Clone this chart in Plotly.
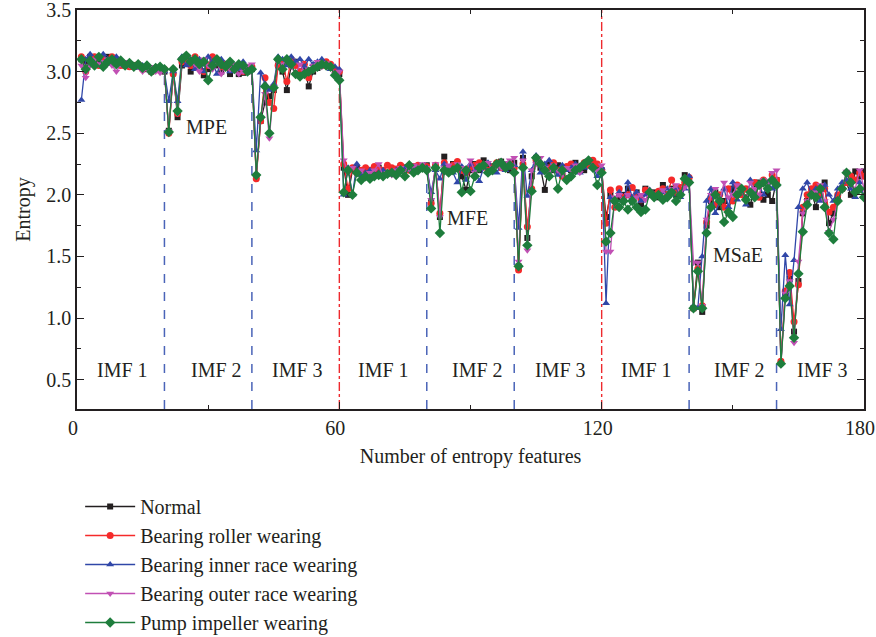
import plotly.graph_objects as go

x_idx = list(range(1, 181))

normal = [
    3.10, 3.08, 3.12, 3.10, 3.08, 3.10, 3.12, 3.10, 3.08, 3.06, 3.05, 3.06, 3.04, 3.05, 3.03, 3.02, 3.00, 3.02, 3.03, 3.00,
    2.52, 3.00, 2.63, 3.05, 3.10, 3.00, 3.08, 3.05, 2.97, 3.02, 3.10, 3.05, 3.00, 3.04, 2.98, 3.02, 2.98, 2.99, 3.00, 3.02,
    2.15, 2.60, 2.75, 2.80, 2.85, 3.05, 3.00, 2.85, 3.05, 3.08, 2.98, 3.02, 2.88, 3.00, 3.03, 3.05, 3.06, 3.04, 3.00, 2.98,
    2.22, 2.00, 2.20, 2.22, 2.18, 2.20, 2.17, 2.20, 2.22, 2.20, 2.18, 2.21, 2.20, 2.23, 2.22, 2.21, 2.20, 2.23, 2.22, 2.24,
    1.95, 2.22, 1.82, 2.31, 2.20, 2.25, 2.22, 2.15, 2.04, 2.20, 2.25, 2.20, 2.28, 2.22, 2.20, 2.25, 2.27, 2.22, 2.20, 2.26,
    1.42, 2.30, 1.65, 2.15, 2.30, 2.22, 2.04, 2.25, 2.20, 2.24, 2.18, 2.22, 2.20, 2.26, 2.22, 2.20, 2.24, 2.25, 2.22, 2.20,
    1.82, 2.00, 1.95, 1.98, 2.00, 2.05, 1.95, 2.02, 1.92, 2.05, 2.00, 2.02, 1.98, 2.08, 2.00, 2.05, 2.00, 2.02, 2.16, 2.12,
    1.08, 1.45, 1.05, 1.75, 1.95, 2.02, 1.90, 1.95, 1.85, 2.05, 2.00, 2.02, 1.98, 1.92, 2.05, 2.10, 1.96, 2.00, 1.95, 2.12,
    0.64, 1.20, 1.32, 0.89, 1.30, 1.85, 1.95, 2.02, 1.90, 2.05, 2.10, 1.77, 1.85, 1.98, 2.05, 2.10, 2.00, 2.19, 2.15, 2.19,
]
roller = [
    3.12, 3.00, 3.10, 3.12, 3.05, 3.10, 3.08, 3.12, 3.10, 3.05, 3.06, 3.04, 3.05, 3.06, 3.02, 3.04, 3.00, 3.03, 3.01, 3.02,
    2.50, 2.98, 2.66, 3.08, 3.10, 3.05, 3.12, 3.08, 3.00, 3.05, 3.12, 3.08, 3.04, 3.06, 3.03, 3.02, 3.05, 3.00, 3.02, 3.04,
    2.13, 2.60, 2.95, 2.75, 2.70, 3.05, 3.08, 2.92, 3.10, 3.05, 3.00, 3.06, 2.95, 3.02, 3.06, 3.05, 3.08, 3.06, 3.02, 3.00,
    2.25, 2.05, 2.22, 2.18, 2.20, 2.22, 2.20, 2.23, 2.21, 2.20, 2.24, 2.22, 2.21, 2.24, 2.22, 2.20, 2.23, 2.24, 2.22, 2.23,
    1.93, 2.24, 1.85, 2.26, 2.22, 2.24, 2.27, 2.20, 2.18, 2.22, 2.24, 2.26, 2.24, 2.20, 2.23, 2.26, 2.22, 2.24, 2.25, 2.22,
    1.39, 2.25, 1.74, 2.05, 2.28, 2.25, 2.20, 2.22, 2.26, 2.20, 2.15, 2.23, 2.25, 2.20, 2.22, 2.26, 2.24, 2.28, 2.25, 2.20,
    1.77, 2.04, 1.90, 2.05, 1.98, 2.00, 2.06, 2.00, 1.96, 2.04, 2.02, 2.00, 2.03, 2.05, 2.00, 2.12, 2.02, 2.06, 2.10, 2.14,
    1.08, 1.40, 1.10, 1.78, 1.98, 1.92, 2.00, 1.90, 2.05, 1.95, 2.08, 2.00, 2.05, 2.02, 2.10, 1.98, 2.12, 2.05, 2.16, 2.12,
    0.65, 1.22, 1.37, 0.97, 1.27, 1.90, 2.00, 2.05, 2.08, 2.00, 2.05, 1.86, 1.90, 2.00, 2.05, 2.10, 2.15, 2.12, 2.18, 2.15,
]
inner = [
    2.77, 3.10, 3.14, 3.08, 3.05, 3.14, 3.10, 3.06, 3.12, 3.08, 3.05, 3.06, 3.04, 3.03, 3.05, 3.02, 3.00, 3.04, 3.02, 3.00,
    2.76, 3.00, 2.76, 3.12, 3.05, 3.10, 3.02, 3.10, 3.00, 3.12, 3.08, 2.98, 3.10, 3.06, 3.00, 3.05, 3.02, 3.08, 3.00, 3.03,
    2.36, 2.99, 2.90, 2.85, 2.90, 3.12, 3.10, 3.05, 3.12, 3.08, 3.10, 3.04, 3.10, 3.06, 3.08, 3.10, 3.06, 3.02, 3.04, 3.02,
    2.00, 2.22, 2.00, 2.25, 2.16, 2.18, 2.20, 2.16, 2.18, 2.20, 2.16, 2.18, 2.20, 2.19, 2.22, 2.20, 2.21, 2.22, 2.20, 2.22,
    2.02, 2.20, 2.13, 2.25, 2.20, 2.18, 2.10, 2.23, 2.12, 2.25, 2.20, 2.11, 2.22, 2.26, 2.20, 2.18, 2.24, 2.20, 2.22, 2.24,
    1.73, 2.35, 1.99, 2.20, 2.32, 2.18, 2.25, 2.28, 2.20, 2.16, 2.24, 2.20, 2.22, 2.25, 2.18, 2.22, 2.26, 2.22, 2.15, 2.22,
    1.12, 1.98, 1.95, 2.02, 1.95, 2.10, 1.98, 2.02, 1.95, 2.00, 2.04, 2.00, 1.98, 2.02, 2.05, 2.00, 2.06, 1.98, 2.05, 2.15,
    1.10, 1.08, 1.50, 1.95, 2.05, 1.85, 1.95, 2.05, 1.90, 2.10, 1.96, 2.05, 1.92, 2.12, 2.00, 2.08, 2.00, 2.10, 2.05, 2.08,
    0.91, 1.51, 1.11, 1.47, 1.90, 2.05, 2.10, 2.00, 2.05, 1.95, 2.08, 2.00, 1.95, 2.05, 2.10, 2.12, 2.05, 1.98, 2.10, 1.98,
]
outer = [
    3.05, 2.95, 3.05, 3.10, 3.06, 3.08, 3.10, 3.05, 3.00, 3.06, 3.08, 3.05, 3.03, 3.04, 3.00, 3.02, 3.04, 3.00, 2.99, 3.00,
    2.52, 3.00, 2.66, 3.10, 3.12, 3.08, 3.06, 3.00, 3.10, 3.05, 3.02, 3.08, 2.98, 3.05, 3.02, 3.06, 2.98, 3.00, 3.05, 3.06,
    2.15, 2.62, 2.82, 2.46, 2.88, 3.08, 3.06, 3.10, 3.04, 2.98, 3.06, 3.00, 3.02, 3.05, 3.08, 3.04, 3.07, 3.05, 2.98, 3.00,
    2.28, 2.18, 2.22, 2.17, 2.20, 2.14, 2.18, 2.20, 2.25, 2.15, 2.18, 2.16, 2.20, 2.22, 2.19, 2.21, 2.24, 2.23, 2.25, 2.22,
    1.96, 2.25, 1.82, 2.22, 2.24, 2.20, 2.25, 2.22, 2.20, 2.28, 2.18, 2.24, 2.22, 2.26, 2.20, 2.24, 2.22, 2.26, 2.28, 2.30,
    1.46, 2.28, 1.55, 2.20, 2.25, 2.30, 2.22, 2.18, 2.24, 2.20, 2.16, 2.22, 2.20, 2.24, 2.18, 2.25, 2.28, 2.22, 2.20, 2.24,
    1.54, 1.54, 1.98, 2.00, 1.96, 2.00, 1.95, 1.98, 2.00, 1.96, 2.02, 1.98, 2.00, 2.04, 1.98, 2.05, 2.08, 2.00, 2.06, 2.10,
    1.45, 1.45, 1.10, 1.80, 2.00, 2.05, 1.95, 2.10, 1.98, 2.00, 2.08, 2.05, 1.95, 2.10, 2.05, 2.00, 2.12, 2.08, 2.18, 2.20,
    0.62, 1.20, 1.30, 0.80, 1.46, 1.85, 1.95, 2.00, 2.02, 2.08, 1.95, 1.70, 1.80, 1.95, 2.05, 2.19, 2.10, 2.05, 2.20, 2.05,
]
pump = [
    3.10, 3.02, 3.09, 3.05, 3.12, 3.04, 3.08, 3.10, 3.06, 3.09, 3.05, 3.07, 3.04, 3.06, 3.03, 3.05, 3.00, 3.03, 3.04, 3.02,
    2.51, 3.02, 2.68, 3.10, 3.13, 3.08, 3.10, 3.06, 3.08, 2.93, 3.05, 3.10, 3.06, 3.04, 3.08, 3.02, 3.06, 3.05, 3.00, 3.02,
    2.16, 2.63, 2.88, 2.50, 2.87, 3.10, 3.02, 3.10, 3.06, 2.98, 2.96, 2.98, 3.00, 3.02, 3.04, 3.06, 3.05, 3.04, 2.97, 2.93,
    2.02, 2.20, 2.00, 2.18, 2.12, 2.15, 2.13, 2.15, 2.16, 2.15, 2.17, 2.18, 2.16, 2.20, 2.15, 2.24, 2.18, 2.20, 2.22, 2.20,
    1.89, 2.22, 1.69, 2.20, 2.18, 2.20, 2.22, 2.02, 2.20, 2.03, 2.15, 2.22, 2.24, 2.18, 2.20, 2.25, 2.26, 2.22, 2.24, 2.18,
    1.42, 2.22, 1.59, 2.03, 2.30, 2.25, 2.20, 2.15, 2.22, 2.05, 2.20, 2.12, 2.15, 2.20, 2.22, 2.25, 2.28, 2.22, 2.08, 2.18,
    1.62, 1.69, 1.95, 1.90, 1.95, 1.88, 1.95, 1.90, 1.86, 1.88, 2.02, 1.98, 2.00, 1.96, 1.98, 2.02, 1.95, 2.00, 2.13, 2.10,
    1.08, 1.38, 1.08, 1.69, 1.90, 2.00, 1.95, 1.78, 1.86, 1.82, 2.00, 2.05, 1.96, 2.02, 1.98, 2.08, 2.10, 2.05, 2.12, 2.08,
    0.63, 1.16, 1.26, 0.84, 1.36, 1.70, 1.92, 2.00, 1.98, 2.05, 1.90, 1.69, 1.64, 1.95, 2.05, 2.18, 2.10, 2.02, 2.05, 1.98,
]

series_names = ["Normal", "Bearing roller wearing", "Bearing inner race wearing",
                "Bearing outer race wearing", "Pump impeller wearing"]
series_values = [normal, roller, inner, outer, pump]
series_colors = ["#231f20", "#f52a2a", "#3047a8", "#c150b4", "#1e7d3c"]
series_symbols = ["square", "circle", "triangle-up", "triangle-down", "diamond"]
series_sizes = [6, 7, 7, 7, 8]

imf_x = [10.5, 31.8, 50.5, 70.1, 91.7, 110.5, 130.3, 151.6, 170.4]
imf_labels = ["IMF 1", "IMF 2", "IMF 3"] * 3
method_x = [29.7, 89.4, 151.2]
method_y = [2.55, 1.81, 1.51]
method_labels = ["MPE", "MFE", "MSaE"]
blue_lines_x = [20, 40, 80, 100, 140, 160]
blue_lines_top = [3.0, 3.0, 2.2, 2.2, 2.05, 2.1]
red_lines_x = [60, 120]

FONT = "Liberation Serif"
TXT = "#231f20"

fig = go.Figure()
for i, (nm, vals, col, sym, sz) in enumerate(zip(series_names, series_values, series_colors,
                                                   series_symbols, series_sizes)):
    fig.add_trace(go.Scatter(
        x=x_idx, y=vals, name=nm, mode="lines+markers",
        line=dict(color=col, width=1.3),
        marker=dict(symbol=sym, size=sz, color=col),
    ))

YMIN, YMAX = 0.262, 3.5
for xv, top in zip(blue_lines_x, blue_lines_top):
    fig.add_shape(type="line", x0=xv, x1=xv, y0=YMIN, y1=top, xref="x", yref="y",
                  line=dict(color="#4a64b8", width=1.5, dash="dash"), layer="below")
for xv in red_lines_x:
    fig.add_shape(type="line", x0=xv, x1=xv, y0=YMIN, y1=YMAX, xref="x", yref="y",
                  line=dict(color="#ee2a2e", width=1.4, dash="dashdot"), layer="below")

for xv, lab in zip(imf_x, imf_labels):
    fig.add_annotation(x=xv, y=0.58, text=lab, showarrow=False,
                       font=dict(family=FONT, size=20, color=TXT))
for xv, yv, lab in zip(method_x, method_y, method_labels):
    fig.add_annotation(x=xv, y=yv, text=lab, showarrow=False,
                       font=dict(family=FONT, size=20, color=TXT))

axis_common = dict(showline=True, linecolor="#231f20", linewidth=1.5, mirror="ticks",
                   ticks="inside", ticklen=7, tickwidth=1.3, tickcolor="#231f20",
                   showgrid=False, zeroline=False, ticklabeloverflow="allow",
                   tickfont=dict(family=FONT, size=20, color=TXT))

fig.update_xaxes(range=[0, 180], tickvals=[0, 60, 120, 180], ticklabelshift=-4,
                 minor=dict(tickvals=[30, 90, 150], ticks="inside", ticklen=4, tickcolor="#231f20"),
                 title=dict(text="Number of entropy features", font=dict(family=FONT, size=20, color=TXT),
                            standoff=11),
                 **axis_common)
fig.update_yaxes(range=[YMIN, YMAX], tickvals=[0.5, 1.0, 1.5, 2.0, 2.5, 3.0, 3.5],
                 ticktext=["0.5", "1.0", "1.5", "2.0", "2.5", "3.0", "3.5"],
                 minor=dict(tickvals=[0.75, 1.25, 1.75, 2.25, 2.75, 3.25], ticks="inside",
                            ticklen=4, tickcolor="#231f20"),
                 title=dict(text="Entropy", font=dict(family=FONT, size=20, color=TXT), standoff=10),
                 **axis_common)

fig.update_layout(
    width=876, height=637,
    margin=dict(l=77, r=12, t=10, b=228, autoexpand=False),
    plot_bgcolor="white", paper_bgcolor="white",
    showlegend=True,
    legend=dict(x=0.004, xref="paper", y=1 - 487 / 637, yref="container",
                xanchor="left", yanchor="top", itemwidth=50,
                font=dict(family=FONT, size=20, color=TXT),
                tracegroupgap=0, bgcolor="rgba(0,0,0,0)"),
    font=dict(family=FONT, color=TXT),
)

fig.write_html("out.html")
